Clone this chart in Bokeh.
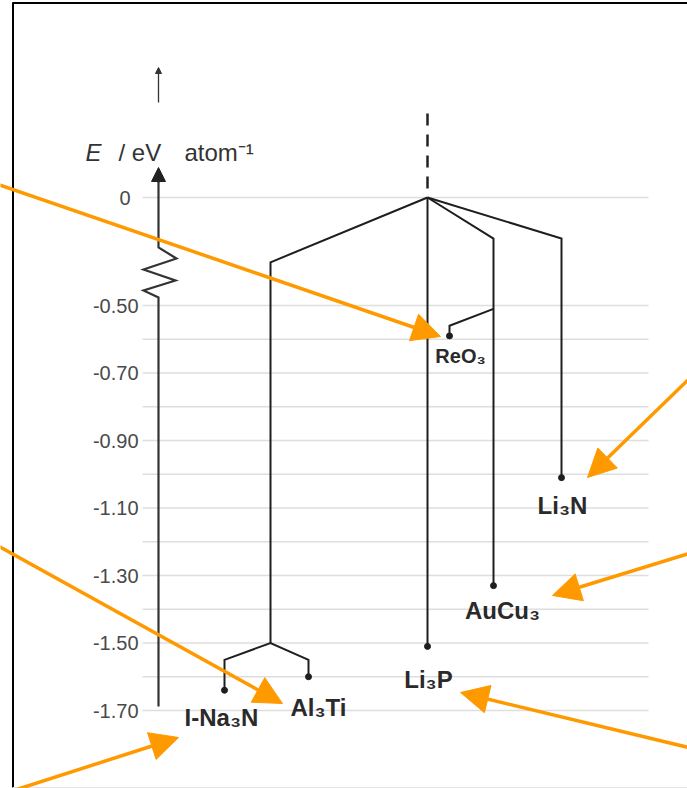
from bokeh.plotting import figure
from bokeh.models import Range1d, ColumnDataSource, Arrow, NormalHead
from bokeh.embed import file_html
from bokeh.resources import INLINE
from bokeh.core.properties import value

# ---------------- data ----------------
leaf_names = ["I-Na₃N", "Al₃Ti", "Li₃P", "ReO₃", "AuCu₃", "Li₃N"]
leaf_energy = [-1.64, -1.60, -1.51, -0.59, -1.33, -1.01]      # eV / atom

# branches of the energy tree (energies of the path vertices)
branch_energy = [
    [0.0, -0.30, -1.50],                    # root -> I-Na3N / Al3Ti group
    [-1.64, -1.55, -1.50, -1.55, -1.60],    # split into I-Na3N and Al3Ti
    [0.0, -1.51],                           # Li3P
    [0.0, -0.19, -1.33],                    # AuCu3
    [0.0, -0.19, -1.01],                    # Li3N
    [-0.51, -0.56, -0.59],                  # ReO3 off the AuCu3 branch
]

tick_values = [0.0, -0.50, -0.70, -0.90, -1.10, -1.30, -1.50, -1.70]
tick_labels = ["0", "-0.50", "-0.70", "-0.90", "-1.10", "-1.30", "-1.50", "-1.70"]
grid_values = [0.0, -0.5, -0.6, -0.7, -0.8, -0.9, -1.0, -1.1, -1.2, -1.3, -1.4, -1.5, -1.6, -1.7]

# ---------------- layout ----------------
leaf_x = [224, 308, 427, 449, 493, 561]
branch_x = [
    [427, 270, 270],
    [224, 224, 270, 308, 308],
    [427, 427],
    [427, 493, 493],
    [427, 561, 561],
    [493, 449, 449],
]
label_dx = [-3, 10, 1, 11, 9, 1]
label_dy = [27, 31, 33, 20, 25, 28]
label_fs = ["24px", "24px", "24px", "20px", "24px", "24px"]

PX_PER_EV = 337.5
BREAK = -0.5        # axis is compressed above this energy
COMPRESS = 0.64


def fy(e):
    """energy -> axis coordinate (broken axis above -0.5 eV)"""
    return e if e <= BREAK else BREAK + (e - BREAK) * COMPRESS


def yd(py):
    """picture pixel row -> axis coordinate (for decorations only)"""
    return BREAK - (py - 305) / PX_PER_EV


W, H = 687, 788
p = figure(width=W, height=H, x_range=Range1d(0, W), y_range=Range1d(yd(H), yd(0)),
           x_axis_location=None, y_axis_location=None, toolbar_location=None,
           output_backend="svg", min_border=0)
p.outline_line_color = None
p.background_fill_color = "white"
p.border_fill_color = "white"
p.xgrid.visible = False
p.ygrid.visible = False

FONT = value("Liberation Sans")
GRID_X0, GRID_X1 = 142, 648

# grid lines
gy = [fy(v) for v in grid_values]
p.segment(x0=[GRID_X0] * len(gy), x1=[GRID_X1] * len(gy), y0=gy, y1=gy,
          line_color="#dedede", line_width=1.5)

# tick labels
tick_x = [130 if v == 0 else 138 for v in tick_values]
p.text(x=tick_x, y=[fy(v) for v in tick_values], text=tick_labels, text_align="right",
       text_baseline="middle", text_font=FONT, text_font_size=value("20px"),
       text_color="#4a4a4a")

# left, top and bottom border of the picture box
p.line(x=[12.5, 12.5], y=[yd(2), yd(H)], line_color="black", line_width=2)
p.line(x=[12, W], y=[yd(2.5), yd(2.5)], line_color="black", line_width=2)
p.line(x=[12, W], y=[yd(787), yd(787)], line_color="#e6e6e6", line_width=1)

# energy axis with a break (zig-zag) and arrow head
AX = 158
zig_x = [AX, AX, 143, 175, 143, 176, AX, AX]
zig_py = [706, 297, 290, 280, 269, 258, 247, 178]
p.line(x=zig_x, y=[yd(v) for v in zig_py], line_color="#333333", line_width=2.2,
       line_join="miter")
p.add_layout(Arrow(end=NormalHead(size=14, fill_color="#222222", line_color="#222222", line_width=1),
                   x_start=AX, y_start=yd(182), x_end=AX, y_end=yd(167),
                   line_color="#333333", line_width=2))
# small arrow above the axis label
p.add_layout(Arrow(end=NormalHead(size=6, fill_color="#333333", line_color="#333333", line_width=1),
                   x_start=AX, y_start=yd(102), x_end=AX, y_end=yd(67),
                   line_color="#333333", line_width=1.3))

# axis title
p.text(x=[85], y=[yd(152)], text=["E"], text_align="left", text_baseline="alphabetic",
       text_font=FONT, text_font_size=value("24px"), text_font_style="italic", text_color="#333333")
p.text(x=[118], y=[yd(152)], text=["/ eV"], text_align="left", text_baseline="alphabetic",
       text_font=FONT, text_font_size=value("24px"), text_color="#333333")
p.text(x=[184], y=[yd(152)], text=["atom⁻¹"], text_align="left", text_baseline="alphabetic",
       text_font=FONT, text_font_size=value("24px"), text_color="#333333")

# dashed continuation above the root
p.line(x=[427, 427], y=[yd(113), fy(0.0)], line_color="#222222", line_width=2.5,
       line_dash="12 9")

# tree
p.multi_line(xs=branch_x, ys=[[fy(e) for e in b] for b in branch_energy],
             line_color="#1e1e1e", line_width=2, line_join="miter")

src = ColumnDataSource(dict(x=leaf_x, y=[fy(e) for e in leaf_energy], name=leaf_names,
                            dx=label_dx, dy=label_dy, fs=label_fs))
p.scatter(x="x", y="y", source=src, size=6, color="#1e1e1e")
p.text(x="x", y="y", text="name", x_offset="dx", y_offset="dy", text_font_size="fs",
       source=src, text_align="center", text_baseline="middle", text_font=FONT,
       text_font_style="bold", text_color="#2a2a2a")

# orange pointer arrows (picture coordinates of start and tip)
ORANGE = "#ff9900"
arrows = [
    ((-5, 183), (440, 336)),
    ((-5, 544), (282, 703)),
    ((13, 790), (178, 737)),
    ((692, 375), (587, 477)),
    ((692, 552), (552, 595)),
    ((692, 748), (460, 692)),
]
for (sx, sy), (ex, ey) in arrows:
    p.add_layout(Arrow(end=NormalHead(size=28, fill_color=ORANGE, line_color=ORANGE, line_width=1),
                       x_start=sx, y_start=yd(sy), x_end=ex, y_end=yd(ey),
                       line_color=ORANGE, line_width=3.5))

open("out.html", "w").write(file_html(p, INLINE))
